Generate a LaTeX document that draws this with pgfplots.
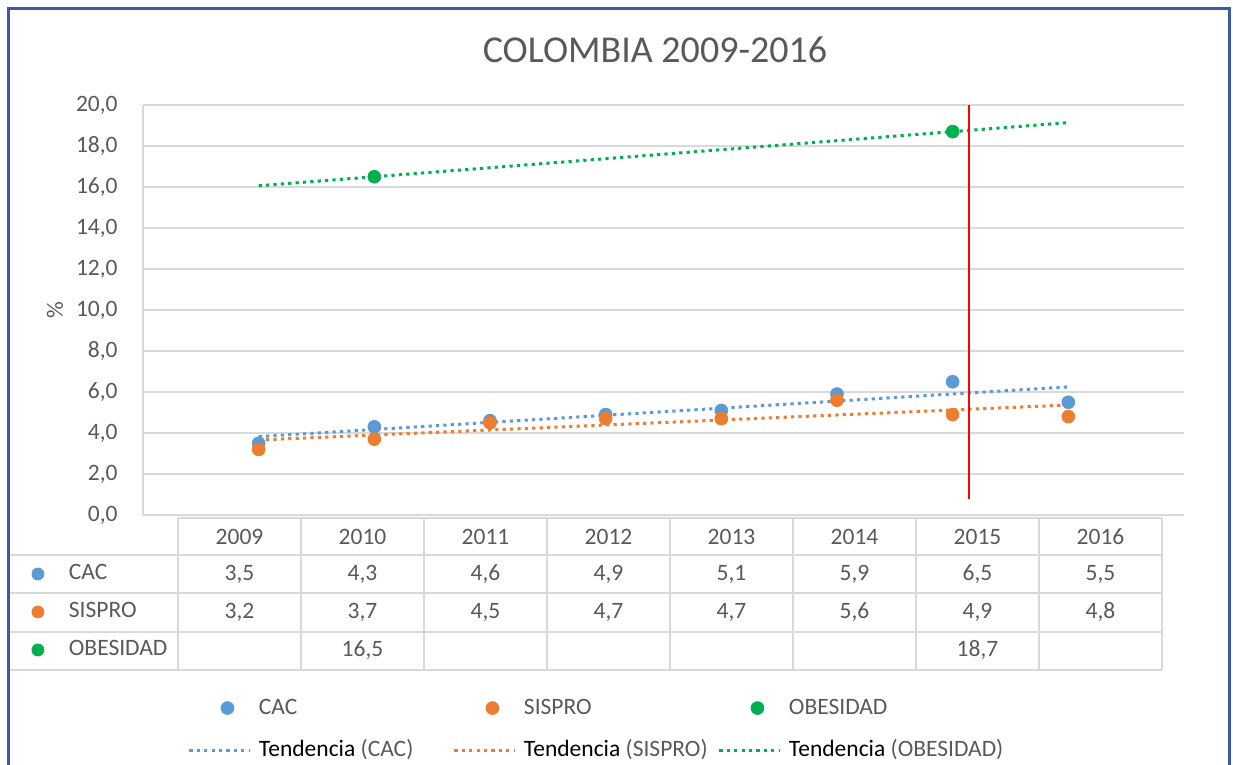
\documentclass[border=0pt]{standalone}
\usepackage{pgfplots}
\pgfplotsset{compat=1.18}
\usepackage{pgfplotstable}
\usepackage{fontspec}
\setmainfont{Carlito}
\definecolor{cac}{HTML}{5B9BD5}
\definecolor{sispro}{HTML}{ED7D31}
\definecolor{obes}{HTML}{00B050}
\definecolor{textgray}{HTML}{595959}
\definecolor{gridgray}{HTML}{D9D9D9}
\definecolor{framecol}{HTML}{3B5BA5}
\pgfplotsset{
 markleg/.style={legend image code/.code={\draw[mark repeat=2,mark phase=2,##1] plot coordinates {(0pt,0pt) (19pt,0pt) (30pt,0pt)};}},
 tableg/.style={legend image code/.code={\draw[mark repeat=2,mark phase=2,##1] plot coordinates {(0pt,0pt) (6.5pt,0pt) (13pt,0pt)};}},
 trendleg/.style={legend image code/.code={\draw[##1] (0pt,0pt) -- (30pt,0pt);}},
 trend/.style={line width=1.5pt, dash pattern=on 1.6pt off 2.1pt},
}
\pgfplotstableread{
year cac sispro obes
2009 3.5 3.2 nan
2010 4.3 3.7 16.5
2011 4.6 4.5 nan
2012 4.9 4.7 nan
2013 5.1 4.7 nan
2014 5.9 5.6 nan
2015 6.5 4.9 18.7
2016 5.5 4.8 nan
}\datatable
\newcommand{\fs}{\fontsize{11.75}{14}\selectfont}
\begin{document}
\begin{tikzpicture}
\useasboundingbox (0,0) rectangle (616.5pt,382.5pt);
\begin{scope}[x=0.5pt,y=-0.5pt,shift={(0pt,382.5pt)}]
 \draw[framecol, line width=1.5pt] (8.5,775) -- (8.5,8.5) -- (1229.5,8.5) -- (1229.5,775);
 \node[font=\fontsize{19}{23}\selectfont, text=textgray] at (655,50) {COLOMBIA 2009-2016};
 \node[font=\fs, text=textgray, rotate=90] at (55,310) {\%};
\end{scope}
\begin{axis}[
 at={(71.5pt,125pt)}, anchor=south west,
 width=520.5pt, height=205pt, scale only axis,
 xmin=2008, xmax=2017, ymin=0, ymax=20,
 ytick={0,2,...,20}, xtick=\empty,
 axis x line=bottom, axis y line=left,
 axis line style={-, draw=gridgray, line width=1pt},
 major tick length=0pt,
 ymajorgrids, grid style={gridgray, line width=1pt},
 yticklabel style={font=\fs, text=textgray, inner sep=0pt, xshift=-12.5pt,
   /pgf/number format/.cd, fixed, fixed zerofill, precision=1, use comma, assume math mode=true},
 legend columns=3,
 legend cell align=left,
 legend style={at={(0.0432,-0.4465)}, anchor=north west, draw=none, fill=none,
   inner sep=0pt, outer sep=0pt, row sep=11pt, font=\fs,
   nodes={inner sep=0pt, text=textgray, text height=8pt, text depth=2pt},
   /tikz/every odd column/.append style={column sep=4pt}},
]
\addplot[forget plot, cac, trend] coordinates {(2009,3.825) (2016,6.250)};
\addplot[forget plot, sispro, trend] coordinates {(2009,3.658) (2016,5.366)};
\addplot[forget plot, obes, trend] coordinates {(2009,16.06) (2016,19.14)};
\addplot[forget plot, red, line width=1.25pt] coordinates {(2015.14,0.8) (2015.14,20)};
\addplot[only marks, mark=*, mark size=3.2pt, cac, markleg] table[x=year,y=cac] {\datatable};
\addlegendentry{\makebox[97pt][l]{CAC}}
\addplot[only marks, mark=*, mark size=3.2pt, sispro, markleg] table[x=year,y=sispro] {\datatable};
\addlegendentry{\makebox[97pt][l]{SISPRO}}
\addplot[only marks, mark=*, mark size=3.2pt, obes, markleg] table[x=year,y=obes] {\datatable};
\addlegendentry{\makebox[97pt][l]{OBESIDAD}}
\addlegendimage{cac, trend, trendleg}
\addlegendentry{\makebox[97pt][l]{\textcolor{black}{Tendencia} (CAC)}}
\addlegendimage{sispro, trend, trendleg}
\addlegendentry{\makebox[97pt][l]{\textcolor{black}{Tendencia} (SISPRO)}}
\addlegendimage{obes, trend, trendleg}
\addlegendentry{\makebox[97pt][l]{\textcolor{black}{Tendencia} (OBESIDAD)}}
\end{axis}
\begin{axis}[
 at={(71.5pt,125pt)}, anchor=south west,
 width=520.5pt, height=205pt, scale only axis, hide axis,
 xmin=0, xmax=1, ymin=0, ymax=1,
 legend cell align=left,
 legend style={at={(-0.1067,-0.1195)}, anchor=north west, draw=none, fill=none,
   inner sep=0pt, outer sep=0pt, row sep=9pt, font=\fs,
   nodes={inner sep=0pt, text=textgray, text height=8pt, text depth=2pt},
   /tikz/every odd column/.append style={column sep=12.5pt}},
]
\addplot[draw=none, forget plot] coordinates {(0.5,0.5)};
\addlegendimage{only marks, mark=*, mark size=3pt, cac, tableg}
\addlegendentry{CAC}
\addlegendimage{only marks, mark=*, mark size=3pt, sispro, tableg}
\addlegendentry{SISPRO}
\addlegendimage{only marks, mark=*, mark size=3pt, obes, tableg}
\addlegendentry{OBESIDAD}
\end{axis}
\begin{scope}[x=0.5pt,y=-0.5pt,shift={(0pt,382.5pt)}]
 \begin{scope}[gridgray, line width=1pt]
  \draw (178,518.5) -- (1162,518.5);
  \foreach \yy in {555.5,593.5,632,670.5} \draw (10,\yy) -- (1162,\yy);
  \foreach \i in {0,...,8} \draw (178+123*\i,518.5) -- (178+123*\i,670.5);
 \end{scope}
 \tikzset{tbl/.style={font=\fs, text=textgray, inner sep=0pt}}
 \foreach \yr [count=\i from 0] in {2009,2010,2011,2012,2013,2014,2015,2016}
   \node[tbl] at (239.5+123*\i,537) {\yr};
 \foreach \v [count=\i from 0] in {3.5,4.3,4.6,4.9,5.1,5.9,6.5,5.5}
   \node[tbl] at (239.5+123*\i,574) {\pgfmathprintnumber[fixed,fixed zerofill,precision=1,use comma,assume math mode=true]{\v}};
 \foreach \v [count=\i from 0] in {3.2,3.7,4.5,4.7,4.7,5.6,4.9,4.8}
   \node[tbl] at (239.5+123*\i,612) {\pgfmathprintnumber[fixed,fixed zerofill,precision=1,use comma,assume math mode=true]{\v}};
 \node[tbl] at (239.5+123*1,650) {\pgfmathprintnumber[fixed,fixed zerofill,precision=1,use comma,assume math mode=true]{16.5}};
 \node[tbl] at (239.5+123*6,650) {\pgfmathprintnumber[fixed,fixed zerofill,precision=1,use comma,assume math mode=true]{18.7}};
\end{scope}
\end{tikzpicture}
\end{document}
